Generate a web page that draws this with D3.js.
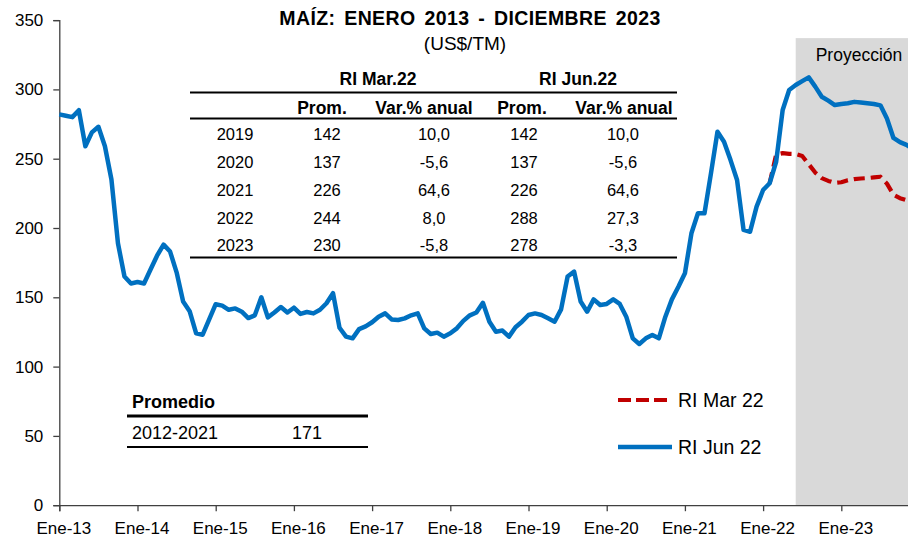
<!DOCTYPE html>
<html>
<head>
<meta charset="utf-8">
<script src="https://cdn.jsdelivr.net/npm/d3@7"></script>
<style>
  html, body { margin: 0; padding: 0; background: #fff; }
  svg { display: block; font-family: Arial, "Liberation Sans", sans-serif; }
</style>
</head>
<body>
<svg id="chart" width="908" height="538"></svg>
<script>
// ---------- DATA ----------
const years = [13, 14, 15, 16, 17, 18, 19, 20, 21, 22, 23];
const monthNames = ["Ene","Feb","Mar","Abr","May","Jun","Jul","Ago","Sep","Oct","Nov","Dic"];
const categories = years.flatMap(y => monthNames.map(m => `${m}-${y}`));

const yTicks = [0, 50, 100, 150, 200, 250, 300, 350];
const xTickLabels = ["Ene-13","Ene-14","Ene-15","Ene-16","Ene-17","Ene-18","Ene-19","Ene-20","Ene-21","Ene-22","Ene-23"];

// RI Jun 22 (US$/TM), Ene-13 .. Dic-23
const riJun22 = [
  282, 281, 280, 285, 259, 269, 273, 259, 235, 189, 165, 160,
  161, 160, 170, 180, 188, 183, 168, 147, 140, 124, 123, 134,
  145, 144, 141, 142, 139.6, 135, 137, 150, 135.5, 139, 143, 139,
  142.5, 138, 139.4, 138.4, 141, 145.7, 153, 128, 121.6, 120.4, 127, 129,
  132, 136, 138.4, 134, 133.6, 134.8, 137, 138.4, 127.6, 123.5, 124.5, 121.6,
  124, 127.6, 133, 137, 139, 146, 132.4, 125.2, 126, 121.6, 128.4, 132.4,
  137.2, 138.4, 137.2, 134.8, 132.4, 141.3, 165, 168.5, 147, 139.6, 148.5, 144.4,
  145.2, 148.5, 145.2, 136, 120.4, 116.3, 120.4, 122.8, 120.4, 136, 148.5, 157.6,
  167.3, 196.2, 210.6, 210.6, 239.5, 269.5, 262.3, 249, 234.6, 198.6, 197.3, 215.4,
  227.4, 232.3, 247.8, 285.1, 299.6, 303.2, 306, 308.7, 302, 294.7, 291.9, 288.7,
  289.5, 290, 291, 290.5, 290, 289.5, 288.5, 279, 265, 262, 260, 257
];

// RI Mar 22 projection (from Feb-22 onward)
const riMar22Start = "Feb-22";
const riMar22 = [
  232.3, 253, 254, 253.5, 253.4, 252, 246, 240, 236, 234, 232.5,
  233, 234.5, 235.3, 235.7, 236, 236.5, 237, 232, 224, 221.5, 220, 219
];

const projectionStart = "Jun-22";
const projectionTop = 337;

const tableGroups = ["RI Mar.22", "RI Jun.22"];
const tableHeaders = ["Prom.", "Var.% anual", "Prom.", "Var.% anual"];
const tableYears = ["2019", "2020", "2021", "2022", "2023"];
const promMar = ["142", "137", "226", "244", "230"];
const varMar = ["10,0", "-5,6", "64,6", "8,0", "-5,8"];
const promJun = ["142", "137", "226", "288", "278"];
const varJun = ["10,0", "-5,6", "64,6", "27,3", "-3,3"];

const avgLabel = "Promedio";
const avgPeriod = "2012-2021";
const avgValue = "171";

const seriesNames = ["RI Mar 22", "RI Jun 22"];

// ---------- CHART ----------
const svg = d3.select("#chart");
const BLUE = "#0070c0", RED = "#c00000", AXIS = "#404040";

const x = d3.scaleLinear().domain([0, categories.length - 1]).range([59.3, 913]);
const y = d3.scaleLinear().domain([0, 350]).range([505.2, 20.1]);

// projection shading
const pIdx = categories.indexOf(projectionStart);
svg.append("rect")
  .attr("x", x(pIdx)).attr("y", y(projectionTop))
  .attr("width", x(categories.length - 1) - x(pIdx) + 10)
  .attr("height", y(0) - y(projectionTop))
  .attr("fill", "#d9d9d9");
svg.append("text")
  .attr("x", x(pIdx) + 20).attr("y", 61)
  .attr("font-size", 17.5).attr("fill", "#000")
  .text("Proyección");

// axes
const yAxis = svg.append("g").attr("transform", `translate(${x(0)},0)`)
  .call(d3.axisLeft(y).tickValues(yTicks).tickSize(6).tickPadding(10).tickFormat(d3.format("d")));
const xIdxTicks = xTickLabels.map(l => categories.indexOf(l));
const xAxis = svg.append("g").attr("transform", `translate(0,${y(0)})`)
  .call(d3.axisBottom(x).tickValues(xIdxTicks).tickSize(6).tickPadding(11).tickFormat(i => categories[i]));
[yAxis, xAxis].forEach(g => {
  g.select(".domain").attr("stroke", AXIS).attr("stroke-width", 1.3);
  g.selectAll(".tick line").attr("stroke", AXIS).attr("stroke-width", 1.3);
  g.selectAll("text").attr("font-size", 17).attr("fill", "#000")
    .attr("font-family", "Arial, 'Liberation Sans', sans-serif");
});
xAxis.selectAll("text").attr("dx", 4);

// lines
const line = d3.line().defined(d => d.v != null).x(d => x(d.i)).y(d => y(d.v));
const mStart = categories.indexOf(riMar22Start);
const marData = riMar22.map((v, k) => ({ i: mStart + k, v }));
const junData = riJun22.map((v, i) => ({ i, v }));

svg.append("path").datum(marData).attr("d", line)
  .attr("fill", "none").attr("stroke", RED).attr("stroke-width", 4.2)
  .attr("stroke-dasharray", "11,6").attr("stroke-linejoin", "round");
svg.append("path").datum(junData).attr("d", line)
  .attr("fill", "none").attr("stroke", BLUE).attr("stroke-width", 4.5)
  .attr("stroke-linejoin", "round");

// title
svg.append("text").attr("x", 470).attr("y", 25).attr("text-anchor", "middle")
  .attr("font-size", 19.5).attr("font-weight", "bold").attr("word-spacing", 3).attr("letter-spacing", 0.4)
  .text("MAÍZ: ENERO 2013 - DICIEMBRE 2023");
svg.append("text").attr("x", 465).attr("y", 50).attr("text-anchor", "middle")
  .attr("font-size", 19).text("(US$/TM)");

// table
const tbl = svg.append("g");
const lineAt = (g, yy, x1, x2, w) => g.append("line").attr("x1", x1).attr("x2", x2)
  .attr("y1", yy).attr("y2", yy).attr("stroke", "#000").attr("stroke-width", w);
lineAt(tbl, 92.5, 190, 677, 2);
lineAt(tbl, 118.5, 190, 677, 2);
lineAt(tbl, 257.5, 190, 677, 2);
const groupX = [378, 578];
tableGroups.forEach((t, k) => tbl.append("text").attr("x", groupX[k]).attr("y", 85)
  .attr("text-anchor", "middle").attr("font-size", 17.5).attr("font-weight", "bold").text(t));
const headX = [322, 424, 522, 624];
tableHeaders.forEach((t, k) => tbl.append("text").attr("x", headX[k]).attr("y", 114)
  .attr("text-anchor", "middle").attr("font-size", 17.5).attr("font-weight", "bold").text(t));
const colX = [235, 327, 434, 524, 623];
const rowY = [140, 168, 196, 224, 251];
const cols = [tableYears, promMar, varMar, promJun, varJun];
cols.forEach((col, c) => col.forEach((t, r) => tbl.append("text")
  .attr("x", colX[c]).attr("y", rowY[r]).attr("text-anchor", "middle")
  .attr("font-size", 16.5).text(t)));

// promedio box
const avg = svg.append("g");
avg.append("text").attr("x", 132).attr("y", 408).attr("font-size", 18).attr("font-weight", "bold").text(avgLabel);
lineAt(avg, 416, 127, 368, 3);
avg.append("text").attr("x", 132).attr("y", 439).attr("font-size", 18).text(avgPeriod);
avg.append("text").attr("x", 307).attr("y", 439).attr("text-anchor", "middle").attr("font-size", 18).text(avgValue);
lineAt(avg, 447, 127, 368, 2);

// legend
const leg = svg.append("g");
leg.append("line").attr("x1", 618).attr("x2", 668).attr("y1", 400).attr("y2", 400)
  .attr("stroke", RED).attr("stroke-width", 4).attr("stroke-dasharray", "13,5");
leg.append("text").attr("x", 678).attr("y", 407).attr("font-size", 19.5).text(seriesNames[0]);
leg.append("line").attr("x1", 618).attr("x2", 672).attr("y1", 447).attr("y2", 447)
  .attr("stroke", BLUE).attr("stroke-width", 4.5);
leg.append("text").attr("x", 678).attr("y", 454).attr("font-size", 19.5).text(seriesNames[1]);
</script>
</body>
</html>
